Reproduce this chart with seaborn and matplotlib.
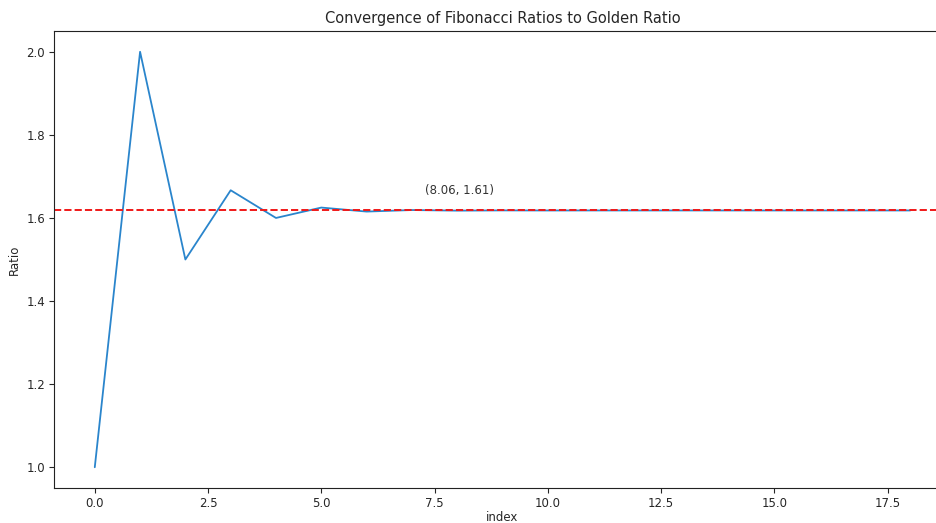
import numpy as np
import pandas as pd
import matplotlib.pyplot as plt
import seaborn as sns

plt.switch_backend("Agg")

# ratios F(n+1)/F(n)
index = list(range(19))
ratios = [1.0, 2.0, 1.5, 1.666667, 1.6, 1.625, 1.615385, 1.619048, 1.617647,
          1.618182, 1.617978, 1.618056, 1.618026, 1.618037, 1.618033,
          1.618034, 1.618034, 1.618034, 1.618034]
golden_ratio = 1.618034
label_x, label_y = 8.06, 1.61

df = pd.DataFrame({"index": index, "Ratio": ratios})

sns.set_style("white")
plt.rcParams["font.family"] = ["DejaVu Sans"]

fig = plt.figure(figsize=(9.36, 5.23), dpi=100)
# the reference is cropped on the right, so the axes run past the figure edge
ax = fig.add_axes([54 / 936, 35 / 523, 897 / 936, 457 / 523])

sns.lineplot(data=df, x="index", y="Ratio", ax=ax, color="#2a85cc", linewidth=1.3)
ax.axhline(golden_ratio, color="#f01818", linestyle="--", linewidth=1.4)
ax.text(label_x, 1.665, f"({label_x:.2f}, {label_y:.2f})", ha="center",
        va="center", fontsize=8.5, color="#333333")

ax.set_title("Convergence of Fibonacci Ratios to Golden Ratio", fontsize=10.5)
ax.set_xlabel("index", fontsize=8.5, labelpad=1)
ax.set_ylabel("Ratio", fontsize=8.5)
ax.tick_params(axis="both", labelsize=8.5, length=3.5, left=True, bottom=True, pad=3)
for s in ax.spines.values():
    s.set_color("#222222")
    s.set_linewidth(0.8)

fig.savefig("out.png", dpi=100)
